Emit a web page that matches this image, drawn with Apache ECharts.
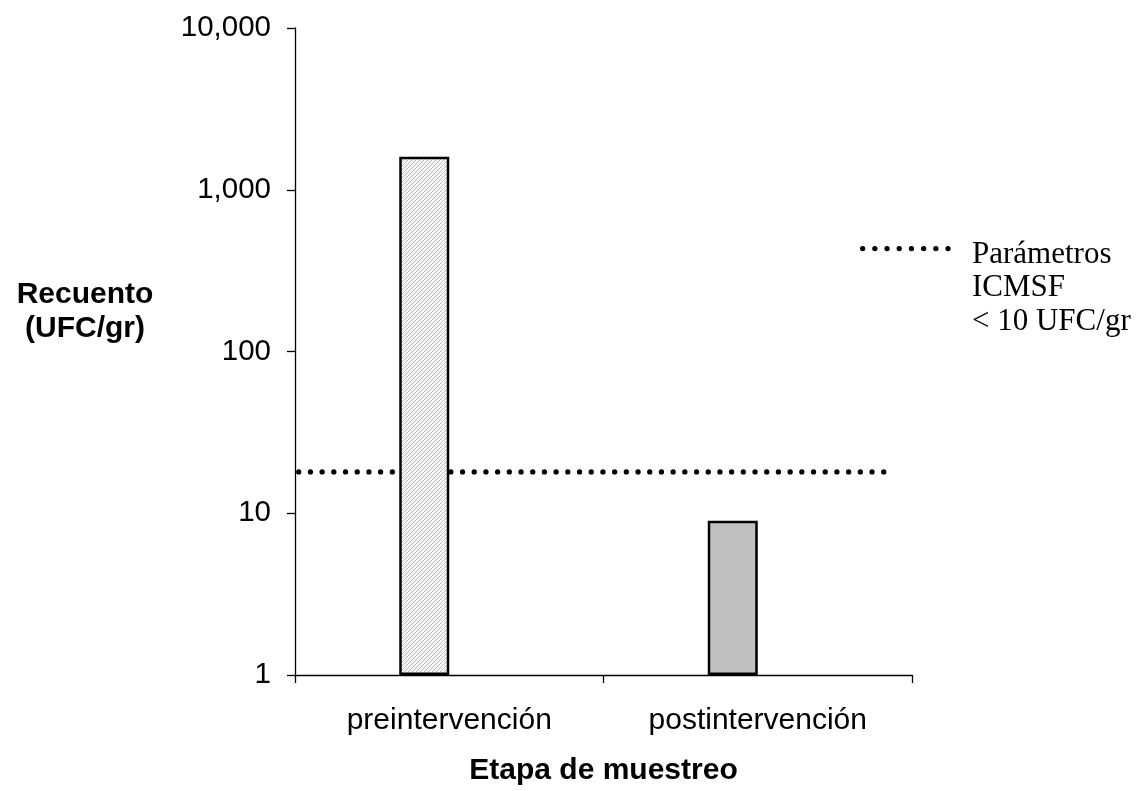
<!DOCTYPE html>
<html>
<head>
<meta charset="utf-8">
<script src="https://cdn.jsdelivr.net/npm/echarts@6/dist/echarts.min.js"></script>
<style>html,body{margin:0;padding:0;background:#fff;}#c{width:1143px;height:791px;}</style>
</head>
<body>
<div id="c"></div>
<script>
// ---- data ----
var categories = ['preintervención', 'postintervención'];
var recuento = [1600, 9];
var spacer = [null, null];
var thresholdValue = 18;
var thresholdSpan = [-0.013, 0.968];
var yTicks = [1, 10, 100, 1000, 10000];
var legendLines = ['Parámetros', 'ICMSF', '< 10 UFC/gr'];

// hatch pattern
var pc = document.createElement('canvas');
pc.width = 4; pc.height = 4;
var g = pc.getContext('2d');
g.fillStyle = '#f6f6f6'; g.fillRect(0, 0, 4, 4);
g.fillStyle = '#b8b8b8';
for (var i = 0; i < 4; i++) { g.fillRect(i, 3 - i, 1, 1); }

var chart = echarts.init(document.getElementById('c'), null, {renderer: 'canvas'});
var barColors = [{image: pc, repeat: 'repeat'}, '#c0c0c0'];
var dotStyle = {color: '#000', width: 5.2, type: [0.1, 11.6], cap: 'round'};

chart.setOption({
  animation: false,
  backgroundColor: '#fff',
  title: {
    text: 'Recuento\n(UFC/gr)',
    left: 80, top: 273, textAlign: 'center',
    textStyle: {fontFamily: 'Liberation Sans', fontWeight: 'bold', fontSize: 30, lineHeight: 34, color: '#000'}
  },
  grid: {left: 295, top: 28, right: 231, bottom: 113},
  xAxis: [{
    type: 'category', data: categories,
    axisLine: {lineStyle: {color: '#000', width: 1.3}},
    axisTick: {show: true, length: 8, lineStyle: {color: '#000', width: 1.3}},
    axisLabel: {fontFamily: 'Liberation Sans', fontSize: 30, color: '#000', margin: 31},
    name: 'Etapa de muestreo', nameLocation: 'middle', nameGap: 81,
    nameTextStyle: {fontFamily: 'Liberation Sans', fontWeight: 'bold', fontSize: 30, color: '#000'}
  }, {
    type: 'value', min: 0, max: 1, show: false
  }],
  yAxis: {
    type: 'log', logBase: 10, min: yTicks[0], max: yTicks[yTicks.length - 1],
    axisLine: {show: true, lineStyle: {color: '#000', width: 1.3}},
    axisTick: {show: true, length: 8, lineStyle: {color: '#000', width: 1.3}},
    splitLine: {show: false},
    axisLabel: {
      fontFamily: 'Liberation Sans', fontSize: 29.5, color: '#000', margin: 24,
      formatter: function (v) { return Number(v).toLocaleString('en-US'); }
    }
  },
  series: [{
    type: 'line', xAxisIndex: 1, z: 1, clip: false,
    data: thresholdSpan.map(function (x) { return [x, thresholdValue]; }),
    symbol: 'none', lineStyle: dotStyle
  }, {
    type: 'bar', z: 3, barWidth: 50, barGap: '0%',
    data: recuento.map(function (v, i) {
      return {value: v, itemStyle: {color: barColors[i]}};
    }),
    itemStyle: {borderColor: '#000', borderWidth: 2.5}
  }, {
    type: 'bar', barWidth: 50, data: spacer
  }],
  graphic: [{
    type: 'line', left: 860, top: 246,
    shape: {x1: 0, y1: 0, x2: 88, y2: 0},
    style: {stroke: '#000', lineWidth: 5.2, lineDash: [0.1, 12.1], lineCap: 'round'}
  }, {
    type: 'text', left: 972, top: 238,
    style: {
      text: legendLines.join('\n'), fill: '#000',
      font: '31px "Liberation Serif"', lineHeight: 33.5
    }
  }]
});
</script>
</body>
</html>
